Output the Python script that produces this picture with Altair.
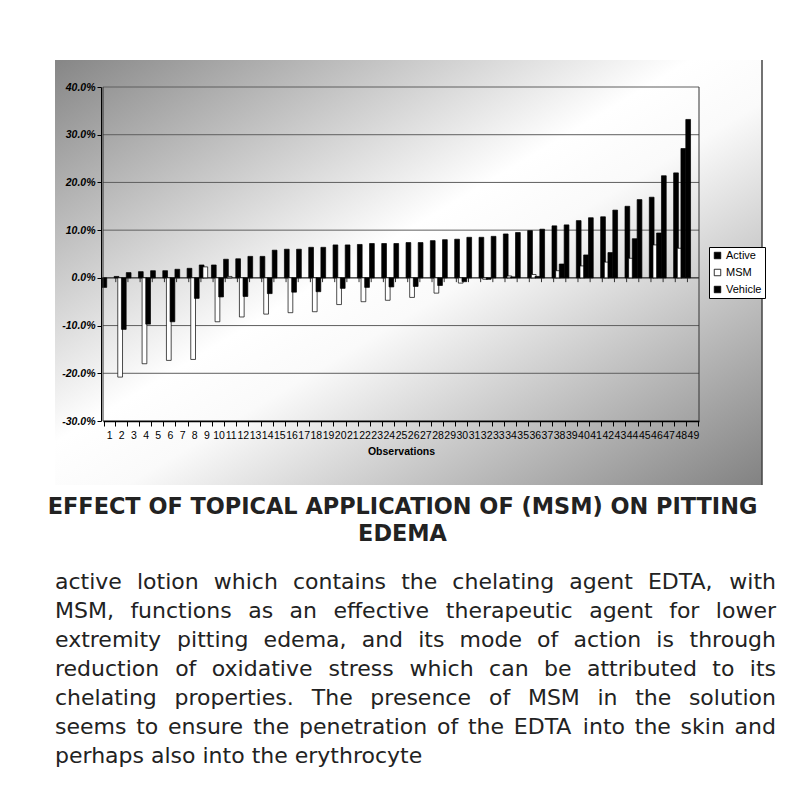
import altair as alt
import pandas as pd

# ---------------- data (percent values) ----------------
obs = list(range(1, 50))
series_names = ["Active", "MSM", "Vehicle"]
active = [-2.0, 0.3, 1.1, 1.3, 1.5, 1.5, 1.8, 2.0, 2.7, 2.7, 3.9, 4.0, 4.5, 4.5, 5.8,
          6.0, 6.0, 6.4, 6.4, 6.9, 6.9, 7.0, 7.2, 7.2, 7.2, 7.4, 7.4, 7.8, 8.0, 8.1,
          8.5, 8.5, 8.7, 9.2, 9.5, 9.9, 10.2, 10.9, 11.1, 12.0, 12.6, 12.8, 14.2, 15.0,
          16.4, 16.9, 21.4, 22.0, 33.2]
msm = [0, -20.8, 0, -18.0, 0, -17.3, 0, -17.1, 2.3, -9.2, 0.3, -8.2, 0, -7.6, 0,
       -7.3, 0, -7.1, 0, -5.6, 0, -5.0, 0, -4.7, 0, -4.1, 0, -3.2, 0, -1.1,
       0, -0.3, 0, 0.4, 0, 0.7, 0, 1.5, 0, 2.5, 0, 3.3, 0, 4.1,
       0, 6.9, 0, 6.2, 0]
vehicle = [0, -10.8, 0, -9.7, 0, -9.2, 0, -4.3, 0, -4.0, 0, -3.9, 0, -3.3, 0,
           -3.0, 0, -2.9, 0, -2.2, 0, -2.0, 0, -1.9, 0, -1.8, 0, -1.6, 0, -0.8,
           0, -0.3, 0, 0.2, 0, 0.3, 0, 2.9, 0, 4.8, 0, 5.3, 0, 8.2,
           0, 9.4, 0, 27.1, 0]
y_ticks = [-30, -20, -10, 0, 10, 20, 30, 40]

title_lines = ["EFFECT OF TOPICAL APPLICATION OF (MSM) ON PITTING", "EDEMA"]
body_lines = [
    "active lotion which contains the chelating agent EDTA, with",
    "MSM, functions as an effective therapeutic agent for lower",
    "extremity pitting edema, and its mode of action is through",
    "reduction of oxidative stress which can be attributed to its",
    "chelating properties. The presence of MSM in the solution",
    "seems to ensure the penetration of the EDTA into the skin and",
    "perhaps also into the erythrocyte",
]

# ---------------- tables ----------------
rows = []
for i, o in enumerate(obs):
    for s, vals in zip(series_names, [active, msm, vehicle]):
        rows.append({"obs": o, "series": s, "value": vals[i] / 100.0})
df = pd.DataFrame(rows)
df_cat = pd.DataFrame({"obs": obs, "value": [0.0] * len(obs), "value2": [-0.009] * len(obs)})
df_grid = pd.DataFrame({"value": [v / 100.0 for v in y_ticks]})
one = pd.DataFrame({"k": [0]})

W, H = 596, 334

x_scale = alt.Scale(domain=obs, paddingInner=0.1, paddingOuter=0.05)
y_scale = alt.Scale(domain=[-0.3, 0.4], nice=False, zero=False)

x_axis = alt.Axis(title="Observations", titleFont="Liberation Sans", titleFontSize=10.5,
                  titleFontWeight="bold", titleColor="black", titlePadding=6,
                  labelFont="Liberation Sans", labelFontSize=10.5, labelColor="black",
                  labelAngle=0, labelOverlap=False, labelPadding=4,
                  tickBand="extent", tickColor="black", tickSize=5,
                  domainColor="black", domainWidth=1.5, grid=False, zindex=1)
y_axis = alt.Axis(values=[v / 100.0 for v in y_ticks],
                  labelExpr="datum.value < 0 ? '-' + format(-datum.value, '.1%') : format(datum.value, '.1%')",
                  labelFont="Liberation Sans", labelFontSize=10.5, labelFontWeight="bold",
                  labelFontStyle="italic", labelColor="black", labelPadding=2,
                  tickColor="black", tickSize=4, domainColor="black", domainWidth=1,
                  grid=False, title=None, zindex=1, offset=2)

x_enc = alt.X("obs:O", scale=x_scale, axis=x_axis)
y_enc = alt.Y("value:Q", scale=y_scale, axis=y_axis)

gradient = {"gradient": "linear", "x1": 0, "y1": 0, "x2": 1, "y2": 1,
            "stops": [{"offset": 0, "color": "#868686"},
                      {"offset": 0.45, "color": "#ffffff"},
                      {"offset": 0.55, "color": "#fafafa"},
                      {"offset": 1, "color": "#828282"}]}

bg = alt.Chart(one).mark_rect(fill=gradient).encode(
    x=alt.value(-48), x2=alt.value(659), y=alt.value(-27), y2=alt.value(398))
edge = alt.Chart(one).mark_rule(color="#444444", strokeWidth=1.5).encode(
    x=alt.value(659), y=alt.value(-27), y2=alt.value(398))

grid = alt.Chart(df_grid).mark_rule(color="#5f5f5f", strokeWidth=1).encode(y=y_enc)
right_border = alt.Chart(one).mark_rule(color="#333333", strokeWidth=1).encode(
    x=alt.value(W), y=alt.value(0), y2=alt.value(H))
left_border = alt.Chart(one).mark_rule(color="#333333", strokeWidth=1).encode(
    x=alt.value(0), y=alt.value(0), y2=alt.value(H))
zero_line = alt.Chart(df_grid).transform_filter("datum.value == 0").mark_rule(
    color="#333333", strokeWidth=1).encode(y=y_enc)
zero_ticks = alt.Chart(df_cat).mark_rule(color="#333333", strokeWidth=1).encode(
    x=alt.X("obs:O", scale=x_scale, axis=x_axis, bandPosition=0),
    y=y_enc, y2="value2:Q")

bars = alt.Chart(df).transform_filter("datum.value != 0").mark_bar(
    stroke="black", strokeWidth=0.7, width=alt.RelativeBandSize(1.3)).encode(
    x=x_enc,
    xOffset=alt.XOffset("series:N", sort=series_names, scale=alt.Scale(domain=series_names)),
    y=y_enc,
    fill=alt.Fill("series:N", scale=alt.Scale(domain=series_names, range=["black", "white", "black"]),
                  legend=alt.Legend(title=None, orient="none", legendX=606, legendY=160,
                                    fillColor="white", strokeColor="black", padding=3,
                                    symbolType="square", symbolSize=42, symbolStrokeColor="black",
                                    symbolStrokeWidth=0.8, labelFont="Liberation Sans",
                                    labelFontSize=11, labelColor="black", rowPadding=5,
                                    labelOffset=3, zindex=1)),
)

inner = alt.layer(bg, edge, grid, zero_line, zero_ticks, bars, right_border, left_border)

# ---------------- text blocks ----------------
CW = {' ': 0.318, 'a': 0.613, 'b': 0.635, 'c': 0.550, 'd': 0.635, 'e': 0.615, 'f': 0.352,
      'g': 0.635, 'h': 0.634, 'i': 0.278, 'j': 0.278, 'k': 0.579, 'l': 0.278, 'm': 0.974,
      'n': 0.634, 'o': 0.612, 'p': 0.635, 'q': 0.635, 'r': 0.411, 's': 0.521, 't': 0.392,
      'u': 0.634, 'v': 0.592, 'w': 0.818, 'x': 0.592, 'y': 0.592, 'z': 0.525, ',': 0.318,
      '.': 0.318, 'A': 0.684, 'D': 0.770, 'E': 0.632, 'M': 0.863, 'S': 0.635, 'T': 0.611}
FS = 22


def tw(s):
    return sum(CW.get(ch, 0.6) for ch in s) * FS


L, R = -48, 673
left_words, right_words = [], []
for li, line in enumerate(body_lines):
    yb = 502 + 29 * li
    if li == len(body_lines) - 1:
        left_words.append({"px": L, "py": yb, "t": line})
        continue
    words = line.split(" ")
    widths = [tw(w) for w in words]
    gap = (R - L - sum(widths)) / (len(words) - 1)
    x = L
    for j, w in enumerate(words):
        if j == len(words) - 1:
            right_words.append({"px": R, "py": yb, "t": w})
        else:
            left_words.append({"px": x, "py": yb, "t": w})
        x += widths[j] + gap

title_df = pd.DataFrame({"px": [299.5, 299.5], "py": [427, 454], "t": title_lines})

title_layer = alt.Chart(title_df).mark_text(
    align="center", baseline="alphabetic", font="DejaVu Sans", fontWeight="bold",
    fontSize=22.4, color="#222222").encode(
    x=alt.X("px:Q", scale=None, axis=None), y=alt.Y("py:Q", scale=None, axis=None), text="t:N")
body_left = alt.Chart(pd.DataFrame(left_words)).mark_text(
    align="left", baseline="alphabetic", font="DejaVu Sans", fontSize=FS, color="#222222").encode(
    x=alt.X("px:Q", scale=None, axis=None), y=alt.Y("py:Q", scale=None, axis=None), text="t:N")
body_right = alt.Chart(pd.DataFrame(right_words)).mark_text(
    align="right", baseline="alphabetic", font="DejaVu Sans", fontSize=FS, color="#222222").encode(
    x=alt.X("px:Q", scale=None, axis=None), y=alt.Y("py:Q", scale=None, axis=None), text="t:N")

texts = alt.layer(title_layer, body_left, body_right)

chart = alt.layer(inner, texts).resolve_scale(x="independent", y="independent").properties(
    width=W, height=H,
    autosize=alt.AutoSizeParams(type="none"),
    padding={"left": 95, "top": 79, "right": 97, "bottom": 375},
    background="white",
).configure_view(stroke=None)

chart.save("out.html", embed_options={"renderer": "svg", "actions": False})
